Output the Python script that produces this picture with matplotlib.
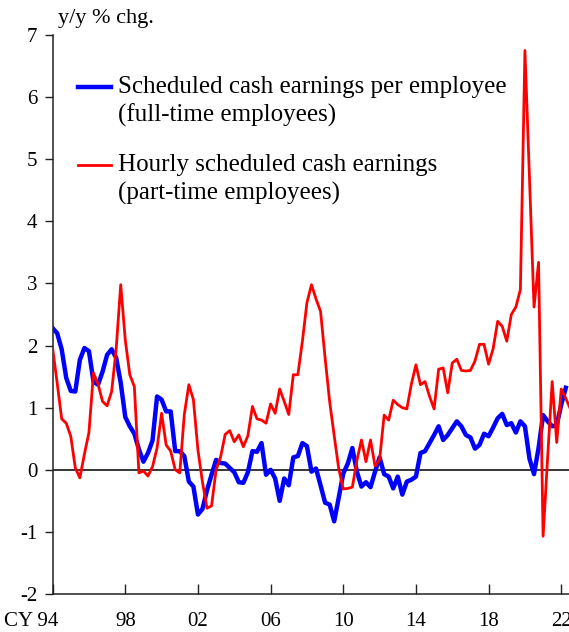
import matplotlib
matplotlib.use('Agg')
import matplotlib.pyplot as plt
import matplotlib.transforms as mtransforms
from matplotlib.lines import Line2D
import numpy as np

plt.rcParams['font.family'] = ['Liberation Serif', 'DejaVu Serif']
plt.rcParams['axes.unicode_minus'] = False

# ---- data (quarterly, starting CY1994 Q1), y/y % chg. ----
start_year = 1994
full_time = [
    2.28, 2.20, 1.94, 1.48, 1.27, 1.26, 1.77, 1.96, 1.91, 1.42,
    1.37, 1.58, 1.85, 1.94, 1.80, 1.40, 0.85, 0.70, 0.58, 0.33,
    0.13, 0.27, 0.47, 1.18, 1.13, 0.94, 0.94, 0.30, 0.30, 0.22,
    -0.19, -0.27, -0.72, -0.63, -0.33, -0.08, 0.16, 0.11, 0.10, 0.03,
    -0.04, -0.20, -0.21, -0.04, 0.30, 0.29, 0.43, -0.08, 0.00, -0.14,
    -0.50, -0.14, -0.25, 0.20, 0.22, 0.43, 0.38, -0.03, 0.02, -0.25,
    -0.53, -0.56, -0.83, -0.45, -0.06, 0.10, 0.35, -0.03, -0.27, -0.20,
    -0.28, -0.03, 0.20, -0.07, -0.11, -0.30, -0.11, -0.40, -0.19, -0.16,
    -0.11, 0.27, 0.30, 0.43, 0.56, 0.70, 0.48, 0.56, 0.67, 0.78,
    0.70, 0.56, 0.52, 0.34, 0.40, 0.58, 0.54, 0.68, 0.83, 0.90,
    0.72, 0.75, 0.60, 0.78, 0.70, 0.18, -0.07, 0.35, 0.88, 0.78,
    0.70, 0.72, 1.05, 1.32,
]
part_time = [
    1.96, 1.40, 0.82, 0.75, 0.54, 0.03, -0.13, 0.25, 0.60, 1.56,
    1.38, 1.10, 1.03, 1.26, 1.95, 2.98, 2.09, 1.53, 1.34, -0.05,
    -0.02, -0.10, 0.05, 0.35, 0.91, 0.40, 0.30, 0.00, -0.05, 0.89,
    1.37, 1.13, 0.32, -0.20, -0.62, -0.58, 0.00, 0.21, 0.57, 0.63,
    0.45, 0.56, 0.37, 0.55, 1.02, 0.82, 0.80, 0.75, 1.06, 0.91,
    1.30, 1.10, 0.89, 1.53, 1.53, 2.07, 2.69, 2.98, 2.75, 2.55,
    1.80, 1.10, 0.55, 0.02, -0.31, -0.30, -0.28, 0.15, 0.48, 0.13,
    0.48, 0.06, 0.16, 0.88, 0.80, 1.12, 1.05, 1.00, 0.98, 1.38,
    1.69, 1.37, 1.42, 1.18, 0.98, 1.62, 1.64, 1.24, 1.72, 1.78,
    1.60, 1.59, 1.60, 1.75, 2.02, 2.02, 1.70, 1.95, 2.39, 2.31,
    2.07, 2.50, 2.62, 2.90, 6.75, 4.70, 2.62, 3.34, -1.07, 0.20,
    1.42, 0.44, 1.30, 1.15, 0.98,
]
series_labels = [
    ["Scheduled cash earnings per employee", "(full-time employees)"],
    ["Hourly scheduled cash earnings", "(part-time employees)"],
]
xtick_years = [1994, 1998, 2002, 2006, 2010, 2014, 2018, 2022]
xtick_labels = ["CY 94", "98", "02", "06", "10", "14", "18", "22"]
ytick_values = [-2, -1, 0, 1, 2, 3, 4, 5, 6, 7]
unit_label = "y/y % chg."

# ---- figure ----
W, H = 569, 632
fig = plt.figure(figsize=(W / 100, H / 100), dpi=100)
ax = fig.add_axes([52.6 / W, 38 / H, 545 / W, 559 / H])

t_ft = start_year + np.arange(len(full_time)) / 4.0
t_pt = start_year + np.arange(len(part_time)) / 4.0

ax.axhline(0, color='black', lw=1.1, zorder=1)
ax.plot(t_ft, full_time, color='#0000FF', lw=3.2, solid_joinstyle='round', zorder=2)
ax.plot(t_pt, part_time, color='#FF0000', lw=2.0, solid_joinstyle='round', zorder=3)

ax.set_xlim(1994, 2024)
ax.set_ylim(-2, 7)

for s in ['top', 'right']:
    ax.spines[s].set_visible(False)
for s in ['left', 'bottom']:
    ax.spines[s].set_linewidth(1.1)
    ax.spines[s].set_color('#222222')

ax.set_yticks(ytick_values)
ax.set_yticklabels([str(v) for v in ytick_values])
ax.set_xticks(xtick_years)
ax.set_xticklabels(xtick_labels)
ax.tick_params(axis='y', direction='out', length=6, width=1.0, pad=5,
               labelsize=15, color='#222222')
ax.tick_params(axis='x', direction='in', length=7, width=1.0, pad=13,
               labelsize=15, color='#222222')
first = ax.get_xticklabels()[0]
first.set_horizontalalignment('right')
first.set_transform(first.get_transform() +
                    mtransforms.ScaledTranslation(4 / 72, 0, fig.dpi_scale_trans))

# unit label
fig.text(58 / W, 1 - 19 / H, unit_label, fontsize=16, ha='left', va='center')

# legend (manual)
colors = ['#0000FF', '#FF0000']
widths = [3.2, 2.0]
ys = [87, 165]
for lab, c, lw, y in zip(series_labels, colors, widths, ys):
    fig.add_artist(Line2D([78 / W, 111 / W], [1 - y / H, 1 - y / H],
                          color=c, lw=lw, transform=fig.transFigure))
    fig.text(118 / W, 1 - y / H, lab[0], fontsize=18, ha='left', va='center')
    fig.text(118 / W, 1 - (y + 28) / H, lab[1], fontsize=18, ha='left', va='center')

fig.savefig('out.png', dpi=100)
